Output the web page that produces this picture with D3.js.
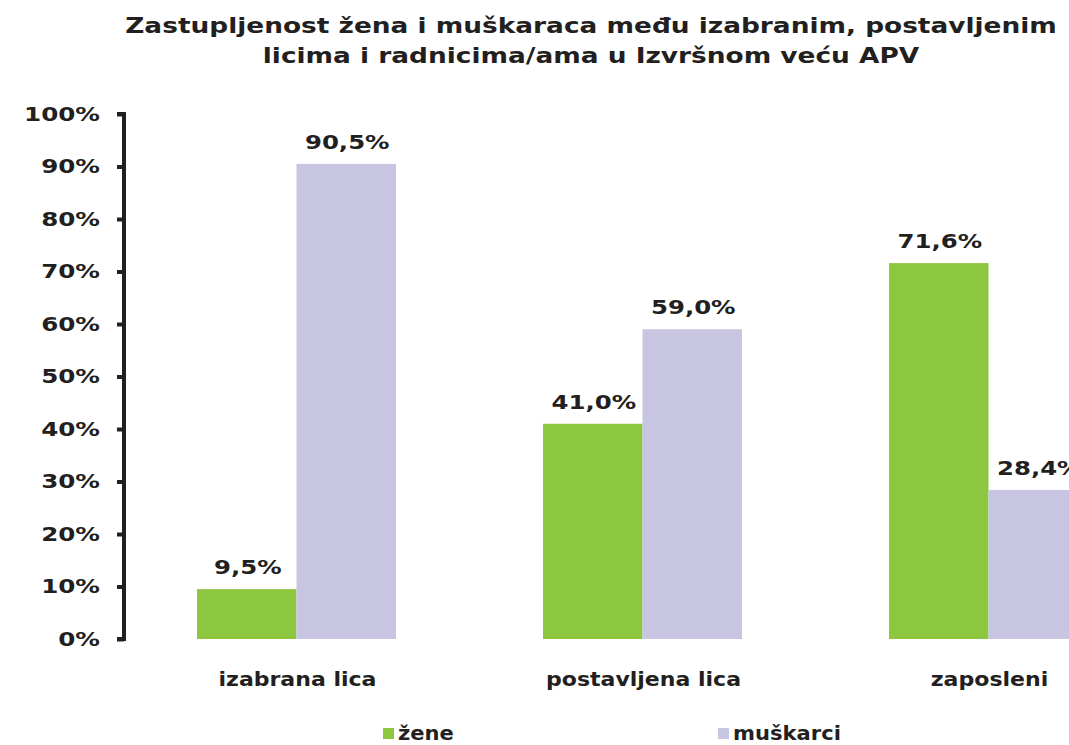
<!DOCTYPE html>
<html><head><meta charset="utf-8">
<script src="https://cdn.jsdelivr.net/npm/d3@7"></script>
<style>body{margin:0;background:#fff}text{font-family:"DejaVu Sans",Verdana,sans-serif;font-weight:bold;fill:#231F20}</style>
</head><body><svg id="c" width="1069" height="745"></svg>
<script>
const categories = ["izabrana lica", "postavljena lica", "zaposleni"];
const series = ["žene", "muškarci"];
const zene = [9.5, 41.0, 71.6];
const muskarci = [90.5, 59.0, 28.4];
const yTicks = [0,10,20,30,40,50,60,70,80,90,100];
const titleLines = ["Zastupljenost žena i muškaraca među izabranim, postavljenim", "licima i radnicima/ama u Izvršnom veću APV"];
const colors = ["#8DC63F", "#C8C5E2"];

const svg = d3.select("#c");
const y = d3.scaleLinear().domain([0,100]).range([639,114]);
const x0 = d3.scaleBand().domain(categories).range([124,1161]).paddingInner(0.425).paddingOuter(0.211);
const x1 = d3.scaleBand().domain(series).range([0, x0.bandwidth()]);
const fmt = v => v.toFixed(1).replace(".", ",") + "%";
const place = (sel, fx, fy, sx) => sel.attr("transform", (d,i)=>`translate(${fx(d,i)},${fy(d,i)}) scale(${sx},1)`);

titleLines.forEach((t,i)=>place(svg.append("text").attr("text-anchor","middle").attr("font-size",22).text(t), ()=>591, ()=>33+i*30, 1.2));

const data = categories.map((c,i)=>({c, vals:[zene[i], muskarci[i]]}));
const g = svg.append("g").selectAll("g").data(data).join("g").attr("transform",d=>`translate(${x0(d.c)},0)`);
g.selectAll("rect").data(d=>d.vals.map((v,j)=>({s:series[j],v,j}))).join("rect")
  .attr("x",d=>x1(d.s)).attr("width",x1.bandwidth()).attr("y",d=>y(d.v)).attr("height",d=>y(0)-y(d.v)).attr("fill",d=>colors[d.j]);
place(g.selectAll("text.v").data(d=>d.vals.map((v,j)=>({s:series[j],v,j}))).join("text").attr("class","v")
  .attr("text-anchor","middle").attr("font-size",20).text(d=>fmt(d.v)),
  d=>x1(d.s)+x1.bandwidth()/2+1, d=>y(d.v)-15, 1.22);

const sxT = 1.23;
const ax = svg.append("g").attr("transform","translate(124,0)")
  .call(d3.axisLeft(y).tickValues(yTicks).tickSize(7).tickPadding(17).tickFormat(d=>d+"%"));
ax.select(".domain").attr("d","M-7,114H0V639H-7").attr("stroke","#231F20").attr("stroke-width",4).attr("fill","none");
ax.selectAll(".tick line").attr("stroke","#231F20").attr("stroke-width",4);
ax.selectAll(".tick text").attr("font-size",20).attr("font-family","DejaVu Sans").attr("font-weight","bold").attr("fill","#231F20")
  .attr("x",-24/sxT).attr("transform",`scale(${sxT},1)`);

place(svg.append("g").selectAll("text").data(categories).join("text").attr("text-anchor","middle").attr("font-size",19).text(d=>d),
  d=>x0(d)+x0.bandwidth()/2+1, ()=>686, 1.16);

const legX = [383, 718];
series.forEach((s,i)=>{
  svg.append("rect").attr("x",legX[i]).attr("y",728).attr("width",11).attr("height",11).attr("fill",colors[i]);
  place(svg.append("text").attr("font-size",19).text(s), ()=>legX[i]+15, ()=>740, 1.11);
});
</script></body></html>
